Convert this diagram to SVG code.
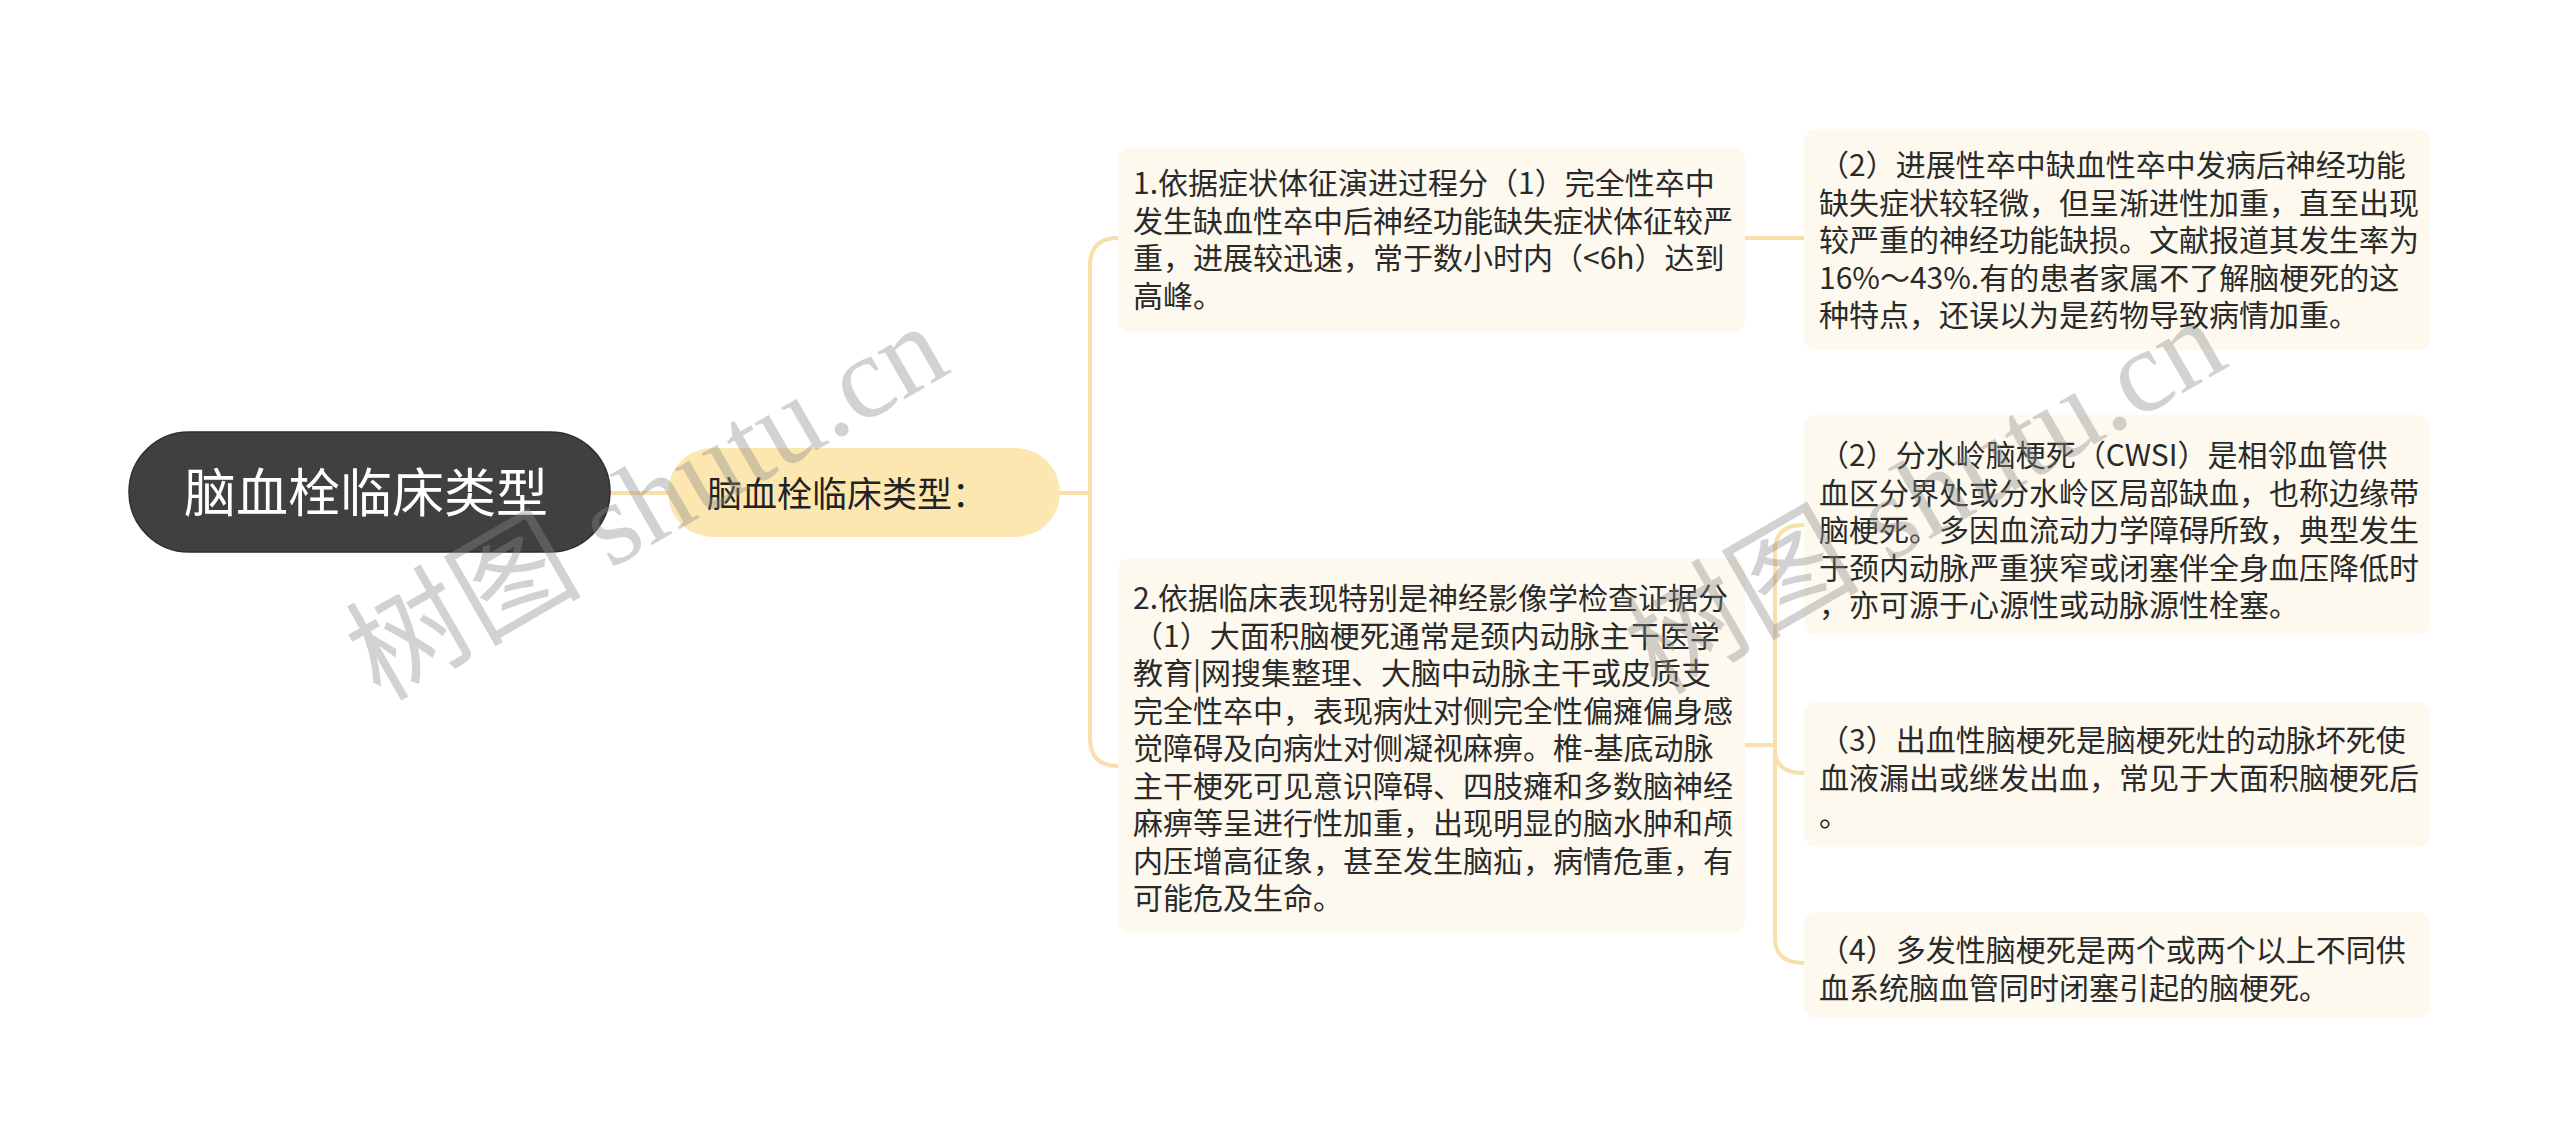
<svg xmlns="http://www.w3.org/2000/svg" width="2560" height="1147" viewBox="0 0 2560 1147">
<style>
.bg{fill:#ffffff}
.root rect{fill:#404040;stroke:#2e2e2e;stroke-width:1.5}
.root text{fill:#ffffff;font-family:"Noto Sans CJK SC","Noto Sans",sans-serif;font-size:52px}
.sub rect{fill:#fde7b1}
.sub text{fill:#222222;font-family:"Noto Sans CJK SC","Noto Sans",sans-serif;font-size:35px}
.leaf rect{fill:#fdf9ee}
.leaf text{fill:#2a2a2a;font-family:"Noto Sans CJK SC","Noto Sans",sans-serif;font-size:30px}
.conn path{fill:none;stroke:#f7e0aa;stroke-width:4;stroke-linecap:round}
.wm{fill:#8a8a8a;opacity:0.38;font-family:"Liberation Serif","Noto Sans CJK SC",serif;font-size:118px}
</style>
<rect class="bg" x="0" y="0" width="2560" height="1147"/>
<g id="connectors" class="conn">
<path d="M610,493 L668,493"/>
<path d="M1060,493 L1090,493"/>
<path d="M1118,238 Q1090,238 1090,266 L1090,738 Q1090,766 1118,766"/>
<path d="M1745,238 L1804,238"/>
<path d="M1745,745 L1775,745"/>
<path d="M1804,525 Q1775,525 1775,550 L1775,938 Q1775,963 1804,963"/>
<path d="M1775,750 Q1775,773 1804,773"/>
</g>
<g id="root" class="root">
<rect x="129" y="432" width="481" height="120" rx="60"/>
<text x="184" y="512">脑血栓临床类型</text>
</g>
<g id="sub" class="sub">
<rect x="668" y="448" width="392" height="89" rx="44.5"/>
<text x="707" y="507">脑血栓临床类型：</text>
</g>
<g id="n1" class="leaf">
<rect x="1118" y="148" width="627" height="184" rx="12"/>
<text x="1133" y="194">1.依据症状体征演进过程分（1）完全性卒中</text>
<text x="1133" y="231.5">发生缺血性卒中后神经功能缺失症状体征较严</text>
<text x="1133" y="269">重，进展较迅速，常于数小时内（&lt;6h）达到</text>
<text x="1133" y="306.5">高峰。</text>
</g>
<g id="n2" class="leaf">
<rect x="1118" y="558" width="627" height="375" rx="12"/>
<text x="1133" y="609">2.依据临床表现特别是神经影像学检查证据分</text>
<text x="1133" y="646.5">（1）大面积脑梗死通常是颈内动脉主干医学</text>
<text x="1133" y="684">教育|网搜集整理、大脑中动脉主干或皮质支</text>
<text x="1133" y="721.5">完全性卒中，表现病灶对侧完全性偏瘫偏身感</text>
<text x="1133" y="759">觉障碍及向病灶对侧凝视麻痹。椎-基底动脉</text>
<text x="1133" y="796.5">主干梗死可见意识障碍、四肢瘫和多数脑神经</text>
<text x="1133" y="834">麻痹等呈进行性加重，出现明显的脑水肿和颅</text>
<text x="1133" y="871.5">内压增高征象，甚至发生脑疝，病情危重，有</text>
<text x="1133" y="909">可能危及生命。</text>
</g>
<g id="r1" class="leaf">
<rect x="1804" y="129" width="626" height="221" rx="12"/>
<text x="1819" y="176">（2）进展性卒中缺血性卒中发病后神经功能</text>
<text x="1819" y="213.5">缺失症状较轻微，但呈渐进性加重，直至出现</text>
<text x="1819" y="251">较严重的神经功能缺损。文献报道其发生率为</text>
<text x="1819" y="288.5">16%～43%.有的患者家属不了解脑梗死的这</text>
<text x="1819" y="326">种特点，还误以为是药物导致病情加重。</text>
</g>
<g id="r2" class="leaf">
<rect x="1804" y="415" width="626" height="220" rx="12"/>
<text x="1819" y="466">（2）分水岭脑梗死（CWSI）是相邻血管供</text>
<text x="1819" y="503.5">血区分界处或分水岭区局部缺血，也称边缘带</text>
<text x="1819" y="541">脑梗死。多因血流动力学障碍所致，典型发生</text>
<text x="1819" y="578.5">于颈内动脉严重狭窄或闭塞伴全身血压降低时</text>
<text x="1819" y="616">，亦可源于心源性或动脉源性栓塞。</text>
</g>
<g id="r3" class="leaf">
<rect x="1804" y="702" width="626" height="145" rx="12"/>
<text x="1819" y="751">（3）出血性脑梗死是脑梗死灶的动脉坏死使</text>
<text x="1819" y="788.5">血液漏出或继发出血，常见于大面积脑梗死后</text>
<text x="1819" y="826">。</text>
</g>
<g id="r4" class="leaf">
<rect x="1804" y="912" width="626" height="106" rx="12"/>
<text x="1819" y="961">（4）多发性脑梗死是两个或两个以上不同供</text>
<text x="1819" y="998.5">血系统脑血管同时闭塞引起的脑梗死。</text>
</g>
<text class="wm" transform="translate(380,702) rotate(-30)">树图 shutu.cn</text>
<text class="wm" transform="translate(1658,696) rotate(-30)">树图 shutu.cn</text>
</svg>
